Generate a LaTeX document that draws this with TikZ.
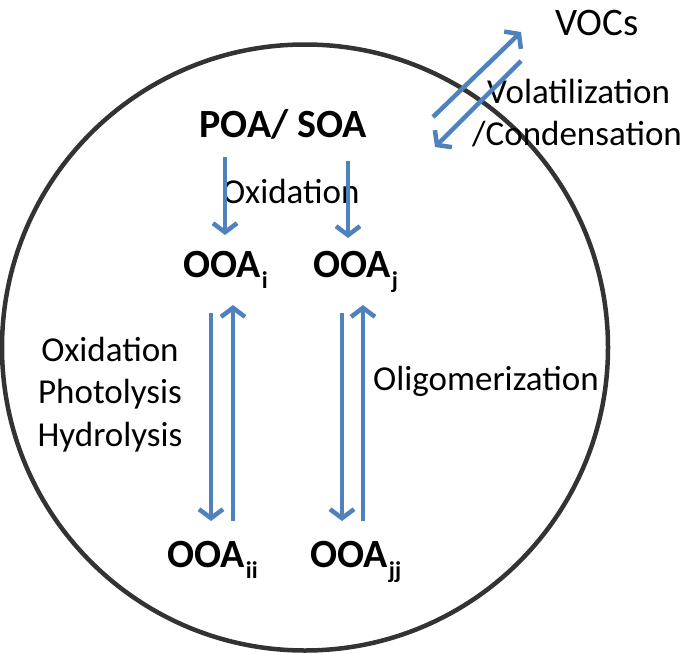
\documentclass[tikz,border=0pt]{standalone}
\usepackage{fontspec}
\setmainfont{Carlito}
\usetikzlibrary{arrows.meta}
\definecolor{arrowblue}{HTML}{4F81BD}
\definecolor{ringgray}{HTML}{333333}
\newcommand\lowsub[1]{\kern1pt\raisebox{-11pt}{\fontsize{24}{24}\selectfont\bfseries #1}}
\begin{document}
\begin{tikzpicture}[x=1pt,y=-1pt,
  lbl/.style={inner sep=0pt, anchor=base west, font=\fontsize{35}{40}\selectfont},
  bold/.style={inner sep=0pt, anchor=base west, font=\fontsize{40}{44}\selectfont\bfseries},
  flow/.style={draw=arrowblue, line width=4.5pt, -{Straight Barb[length=9pt,width=24pt]}}]
\useasboundingbox (0,0) rectangle (685,653);
\node[circle, draw=ringgray, line width=4.5pt, minimum size=606pt, inner sep=0pt] (drop) at (305,347.5) {};
% texts
\node[lbl, font=\fontsize{39}{44}\selectfont] (vocs) at (555,35) {VOCs};
\node[lbl] (vol) at (487,103) {Volatilization};
\node[lbl] (cond) at (472,145) {/Condensation};
\node[bold] (poa) at (199,137) {POA/ SOA};
\node[lbl] (ox1) at (222,203) {Oxidation};
\node[bold] (ooai) at (183,277) {OOA\lowsub{i}};
\node[bold] (ooaj) at (313,277) {OOA\lowsub{j}};
\node[bold] (ooaii) at (167,567) {OOA\lowsub{ii}};
\node[bold] (ooajj) at (310,567) {OOA\lowsub{jj}};
\node[lbl, anchor=base] (ox2) at (110,361) {Oxidation};
\node[lbl, anchor=base] (photo) at (110,403) {Photolysis};
\node[lbl, anchor=base] (hydro) at (110,446) {Hydrolysis};
\node[lbl] (olig) at (373,390) {Oligomerization};
% arrow end points
\coordinate (d1s) at (433,117); \coordinate (d1e) at (521,32);
\coordinate (d2s) at (521,61);  \coordinate (d2e) at (435,147);
\coordinate (a1s) at (225,157); \coordinate (a1e) at (225,235);
\coordinate (a2s) at (348,161); \coordinate (a2e) at (348,238);
\coordinate (b1s) at (211,313); \coordinate (b1e) at (211,521);
\coordinate (b2s) at (233,521); \coordinate (b2e) at (233,305);
\coordinate (c1s) at (342,313); \coordinate (c1e) at (342,521);
\coordinate (c2s) at (363,521); \coordinate (c2e) at (363,305);
\draw[flow] (d1s) -- (d1e);
\draw[flow] (d2s) -- (d2e);
\draw[flow] (a1s) -- (a1e);
\draw[flow] (a2s) -- (a2e);
\draw[flow] (b1s) -- (b1e);
\draw[flow] (b2s) -- (b2e);
\draw[flow] (c1s) -- (c1e);
\draw[flow] (c2s) -- (c2e);
\end{tikzpicture}
\end{document}
